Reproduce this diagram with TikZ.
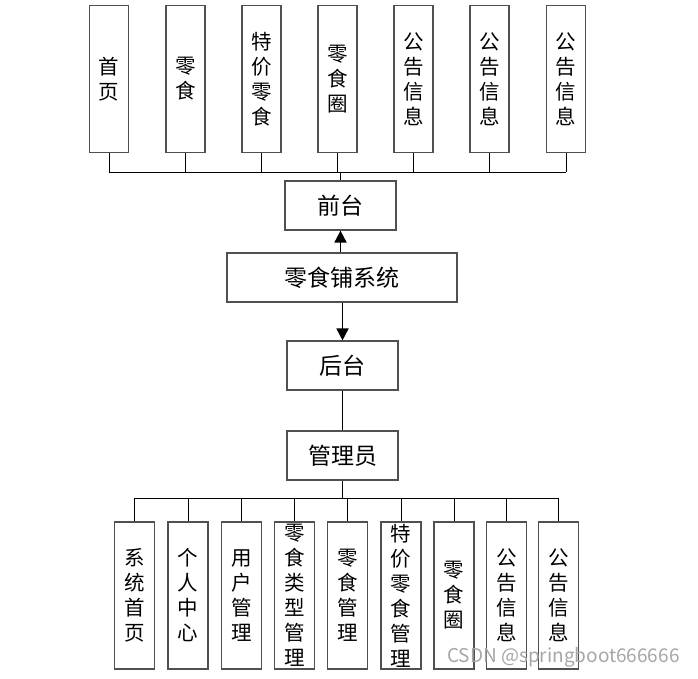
\documentclass[tikz,border=0pt]{standalone}
\usepackage{fontspec}
\setmainfont{Noto Sans CJK SC}
\usetikzlibrary{arrows.meta}
\definecolor{boxline}{HTML}{505050}
\begin{document}
\begin{tikzpicture}[x=1pt,y=-1pt,
  box/.style={draw=boxline,line width=1.2pt,fill=white,inner sep=0pt,align=center},
  vbox/.style={box,minimum width=39pt,minimum height=147pt,font=\fontsize{20.5}{25}\selectfont},
  hbox/.style={box,minimum height=49pt,font=\fontsize{23}{26}\selectfont},
  conn/.style={line width=1pt,black},
  arr/.style={line width=1.8pt,black,-{Triangle[length=12pt,width=12pt]}}]
\useasboundingbox (0,0) rectangle (698,678);
% top row
\node[vbox] (t1) at (109,79) {首\\页};
\node[vbox] (t2) at (185.5,79) {零\\食};
\node[vbox] (t3) at (261.5,79) {特\\价\\零\\食};
\node[vbox] (t4) at (337.5,79) {零\\食\\圈};
\node[vbox] (t5) at (413.5,79) {公\\告\\信\\息};
\node[vbox] (t6) at (489.5,79) {公\\告\\信\\息};
\node[vbox] (t7) at (566,79) {公\\告\\信\\息};
% middle
\node[hbox,minimum width=111pt] (front) at (340.5,205.5) {前台};
\node[hbox,minimum width=230pt] (sys) at (342,277.5) {零食铺系统};
\node[hbox,minimum width=111pt] (back) at (342.5,365.5) {后台};
\node[hbox,minimum width=111pt] (admin) at (342.5,455.5) {管理员};
% bottom row
\node[vbox,minimum width=40pt] (b1) at (134.5,595.5) {系\\统\\首\\页};
\node[vbox,minimum width=40pt] (b2) at (188,595.5) {个\\人\\中\\心};
\node[vbox,minimum width=40pt] (b3) at (241.5,595.5) {用\\户\\管\\理};
\node[vbox,minimum width=40pt] (b4) at (294.5,595.5) {零\\食\\类\\型\\管\\理};
\node[vbox,minimum width=40pt] (b5) at (347.5,595.5) {零\\食\\管\\理};
\node[vbox,minimum width=40pt] (b6) at (401,595.5) {特\\价\\零\\食\\管\\理};
\node[vbox,minimum width=40pt] (b7) at (454,595.5) {零\\食\\圈};
\node[vbox,minimum width=40pt] (b8) at (506.5,595.5) {公\\告\\信\\息};
\node[vbox,minimum width=40pt] (b9) at (558.5,595.5) {公\\告\\信\\息};
% top bus
\coordinate (tbus) at (340.5,172);
\foreach \n in {t1,t2,t3,t4,t5,t6,t7}{
  \draw[conn] (\n.south) -- (\n.south |- tbus);
}
\draw[conn] (t1.south |- tbus) -- (t7.south |- tbus);
\draw[conn] (tbus) -- (front.north);
% arrows
\draw[arr] (sys.north -| front.south) -- (front.south);
\draw[arr] (sys.south -| back.north) -- (back.north);
\draw[conn] (back.south) -- (admin.north);
% bottom bus
\coordinate (bbus) at (342.5,498);
\draw[conn] (admin.south) -- (bbus);
\foreach \n in {b1,b2,b3,b4,b5,b6,b7,b8,b9}{
  \draw[conn] (\n.north) -- (\n.north |- bbus);
}
\draw[conn] (b1.north |- bbus) -- (b9.north |- bbus);
% watermark
\node[anchor=west,text=gray!70,font=\fontsize{19}{21}\selectfont,inner sep=0pt] (wm) at (447,657) {CSDN @springboot666666};
\end{tikzpicture}
\end{document}
